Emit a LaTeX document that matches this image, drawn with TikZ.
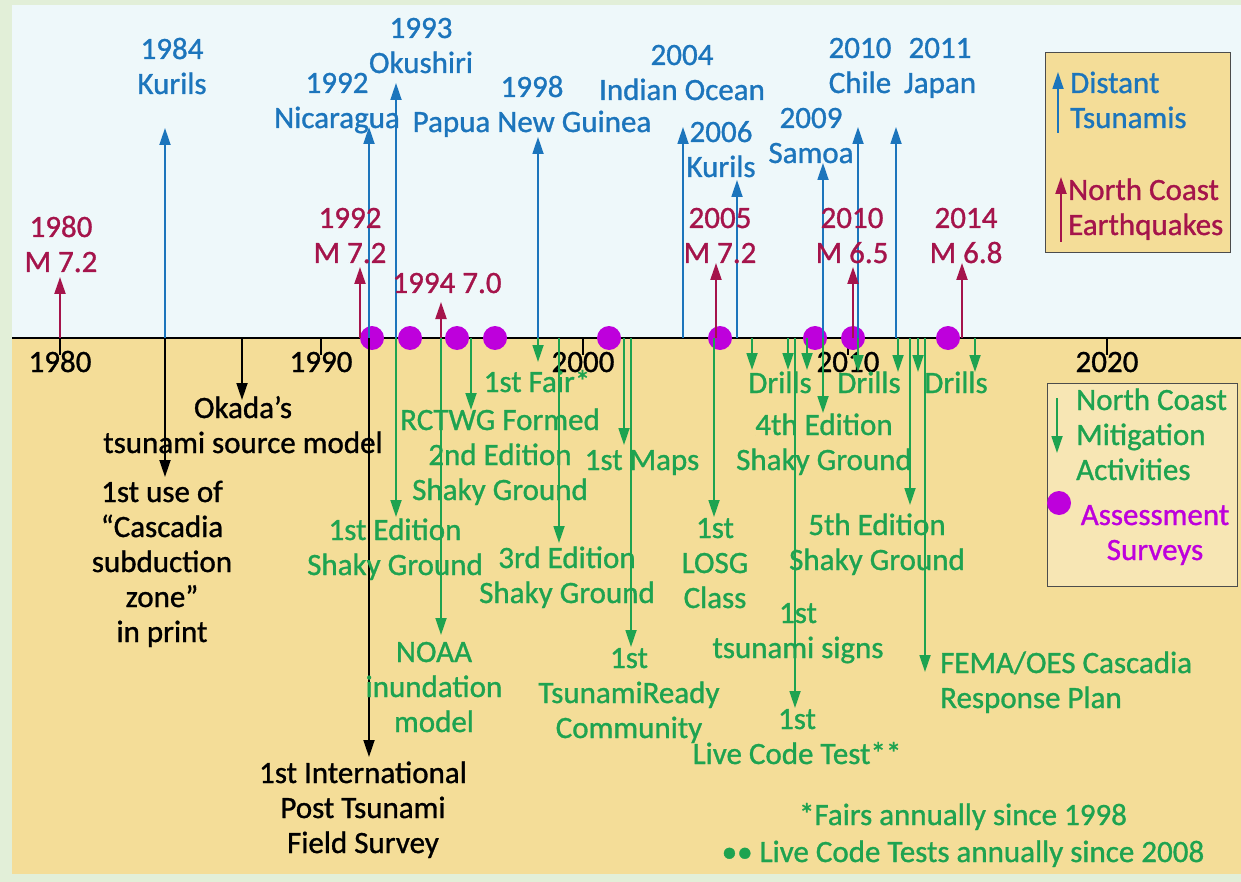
\documentclass[tikz,border=0pt]{standalone}
\usepackage{fontspec}
\setmainfont{Carlito}[FakeBold=1]
\usetikzlibrary{arrows.meta}
\definecolor{tsu}{RGB}{28,117,188}
\definecolor{quake}{RGB}{165,20,75}
\definecolor{mitig}{RGB}{30,163,80}
\definecolor{survey}{RGB}{190,0,220}
\definecolor{sky}{RGB}{238,248,250}
\definecolor{sand}{RGB}{244,221,152}
\definecolor{paler}{RGB}{247,230,180}
\definecolor{rim}{RGB}{226,239,216}

\begin{document}
\begin{tikzpicture}[x=1pt,y=-1pt,
    every node/.style={inner sep=0pt,font=\fontsize{31}{35}\selectfont},
    lbl/.style={align=center,anchor=base},
    lbll/.style={align=left,anchor=base west},
    tip/.style={-{Triangle[length=17pt,width=11pt]},line width=1.8pt},
    dot/.style={fill=survey,draw=none}]
  \useasboundingbox (0,0) rectangle (1241,882);
  % background
  \fill[rim] (0,0) rectangle (1241,882);
  \fill[sky] (12,5) rectangle (1241,338);
  \fill[sand] (12,338) rectangle (1241,874);
  % time axis
  \draw[line width=1.8pt] (12,338) -- (1241,338);
  \foreach \px/\yr in {60/1980,321/1990,583/2000,848/2010,1107/2020} {
    \draw[line width=1.5pt] (\px,338) -- (\px,355);
    \node[lbl] (y\yr) at (\px,372) {\yr};
  }
  % assessment surveys
  \foreach \px in {372,410,457,495,609,720,815,853,948}
    \fill[dot] (\px,338) circle (12);
  % distant tsunamis
  \foreach \px/\py in {165/128,369/127,396/83,538/137,683/127,737/180,823/163,858/127,896/127}
    \draw[tip,tsu] (\px,338) -- (\px,\py);
  % north coast earthquakes
  \foreach \px/\py in {60/277,360/267,441/302,716/263,853/267,962/263}
    \draw[tip,quake,line width=2.2pt] (\px,338) -- (\px,\py);
  % other milestones
  \foreach \px/\py in {165/477,242/400,369/757}
    \draw[tip,black] (\px,338) -- (\px,\py);
  % mitigation activities
  \foreach \px/\py in {396/517,441/635,471/410,538/362,559/543,624/445,631/647,714/517,
      752/370,788/370,795/708,807/370,823/413,858/372,898/372,910/505,918/372,925/672,975/372}
    \draw[tip,mitig] (\px,338) -- (\px,\py);

  % labels: y is the baseline of the last line
  \node[lbl,tsu] (k84) at (172,94) {1984\\Kurils};
  \node[lbl,tsu] (n92) at (337,128) {1992\\Nicaragua};
  \node[lbl,tsu] (o93) at (421,73) {1993\\Okushiri};
  \node[lbl,tsu] (p98) at (532,132) {1998\\Papua New Guinea};
  \node[lbl,tsu] (i04) at (682,100) {2004\\Indian Ocean};
  \node[lbl,tsu] (k06) at (721,177) {2006\\Kurils};
  \node[lbl,tsu] (s09) at (811,163) {2009\\Samoa};
  \node[lbl,tsu] (c10) at (860,93) {2010\\Chile};
  \node[lbl,tsu] (j11) at (940,93) {2011\\Japan};

  \node[lbl,quake] (m80) at (61,272) {1980\\M 7.2};
  \node[lbl,quake] (m92) at (350,263) {1992\\M 7.2};
  \node[lbl,quake] (m94) at (447,293) {1994 7.0};
  \node[lbl,quake] (m05) at (720,263) {2005\\M 7.2};
  \node[lbl,quake] (m10) at (852,263) {2010\\M 6.5};
  \node[lbl,quake] (m14) at (966,263) {2014\\M 6.8};

  \node[lbl] (okada) at (243,453) {Okada’s\\tsunami source model};
  \node[lbl] (casc) at (162,642) {1st use of\\“Cascadia\\subduction\\zone”\\in print};
  \node[lbl] (intl) at (363,853) {1st International\\Post Tsunami\\Field Survey};

  \node[lbl,mitig] (ed1) at (395,575) {1st Edition\\Shaky Ground};
  \node[lbl,mitig] (noaa) at (434,732) {NOAA\\inundation\\model};
  \node[lbl,mitig] (rctwg) at (500,430) {RCTWG Formed};
  \node[lbl,mitig] (fair) at (537,392) {1st Fair*};
  \node[lbl,mitig] (ed2) at (500,500) {2nd Edition\\Shaky Ground};
  \node[lbl,mitig] (ed3) at (567,603) {3rd Edition\\Shaky Ground};
  \node[lbl,mitig] (maps) at (642,470) {1st Maps};
  \node[lbl,mitig] (tready) at (629,738) {1st\\TsunamiReady\\Community};
  \node[lbl,mitig] (losg) at (715,608) {1st\\LOSG\\Class};
  \node[lbl,mitig] (dr1) at (780,393) {Drills};
  \node[lbl,mitig] (dr2) at (869,393) {Drills};
  \node[lbl,mitig] (dr3) at (956,393) {Drills};
  \node[lbl,mitig] (ed4) at (824,470) {4th Edition\\Shaky Ground};
  \node[lbl,mitig] (ed5) at (877,570) {5th Edition\\Shaky Ground};
  \node[lbl,mitig] (signs) at (798,658) {1st\\tsunami signs};
  \node[lbl,mitig] (lct) at (797,764) {1st\\Live Code Test**};
  \node[lbll,mitig] (fema) at (940,708) {FEMA/OES Cascadia\\Response Plan};
  \node[lbl,mitig] (note1) at (963,825) {*Fairs annually since 1998};
  \node[lbl,mitig] (note2) at (963,862) {•• Live Code Tests annually since 2008};

  % legends
  \draw[black!70,fill=sand,line width=1pt] (1045,53) rectangle (1230,253);
  \draw[tip,tsu] (1058,133) -- (1058,72);
  \node[lbll,tsu] (legtsu) at (1070,128) {Distant\\Tsunamis};
  \draw[tip,quake,line width=2.2pt] (1061,242) -- (1061,177);
  \node[lbll,quake] (legeq) at (1068,235) {North Coast\\Earthquakes};

  \draw[black!70,fill=paler,line width=1pt] (1047,383) rectangle (1237,586);
  \draw[tip,mitig] (1057,398) -- (1057,453);
  \node[lbll,mitig] (legmit) at (1076,480) {North Coast\\Mitigation\\Activities};
  \fill[dot] (1059,503) circle (12);
  \node[lbl,survey] (legsur) at (1155,560) {Assessment\\Surveys};
\end{tikzpicture}
\end{document}
